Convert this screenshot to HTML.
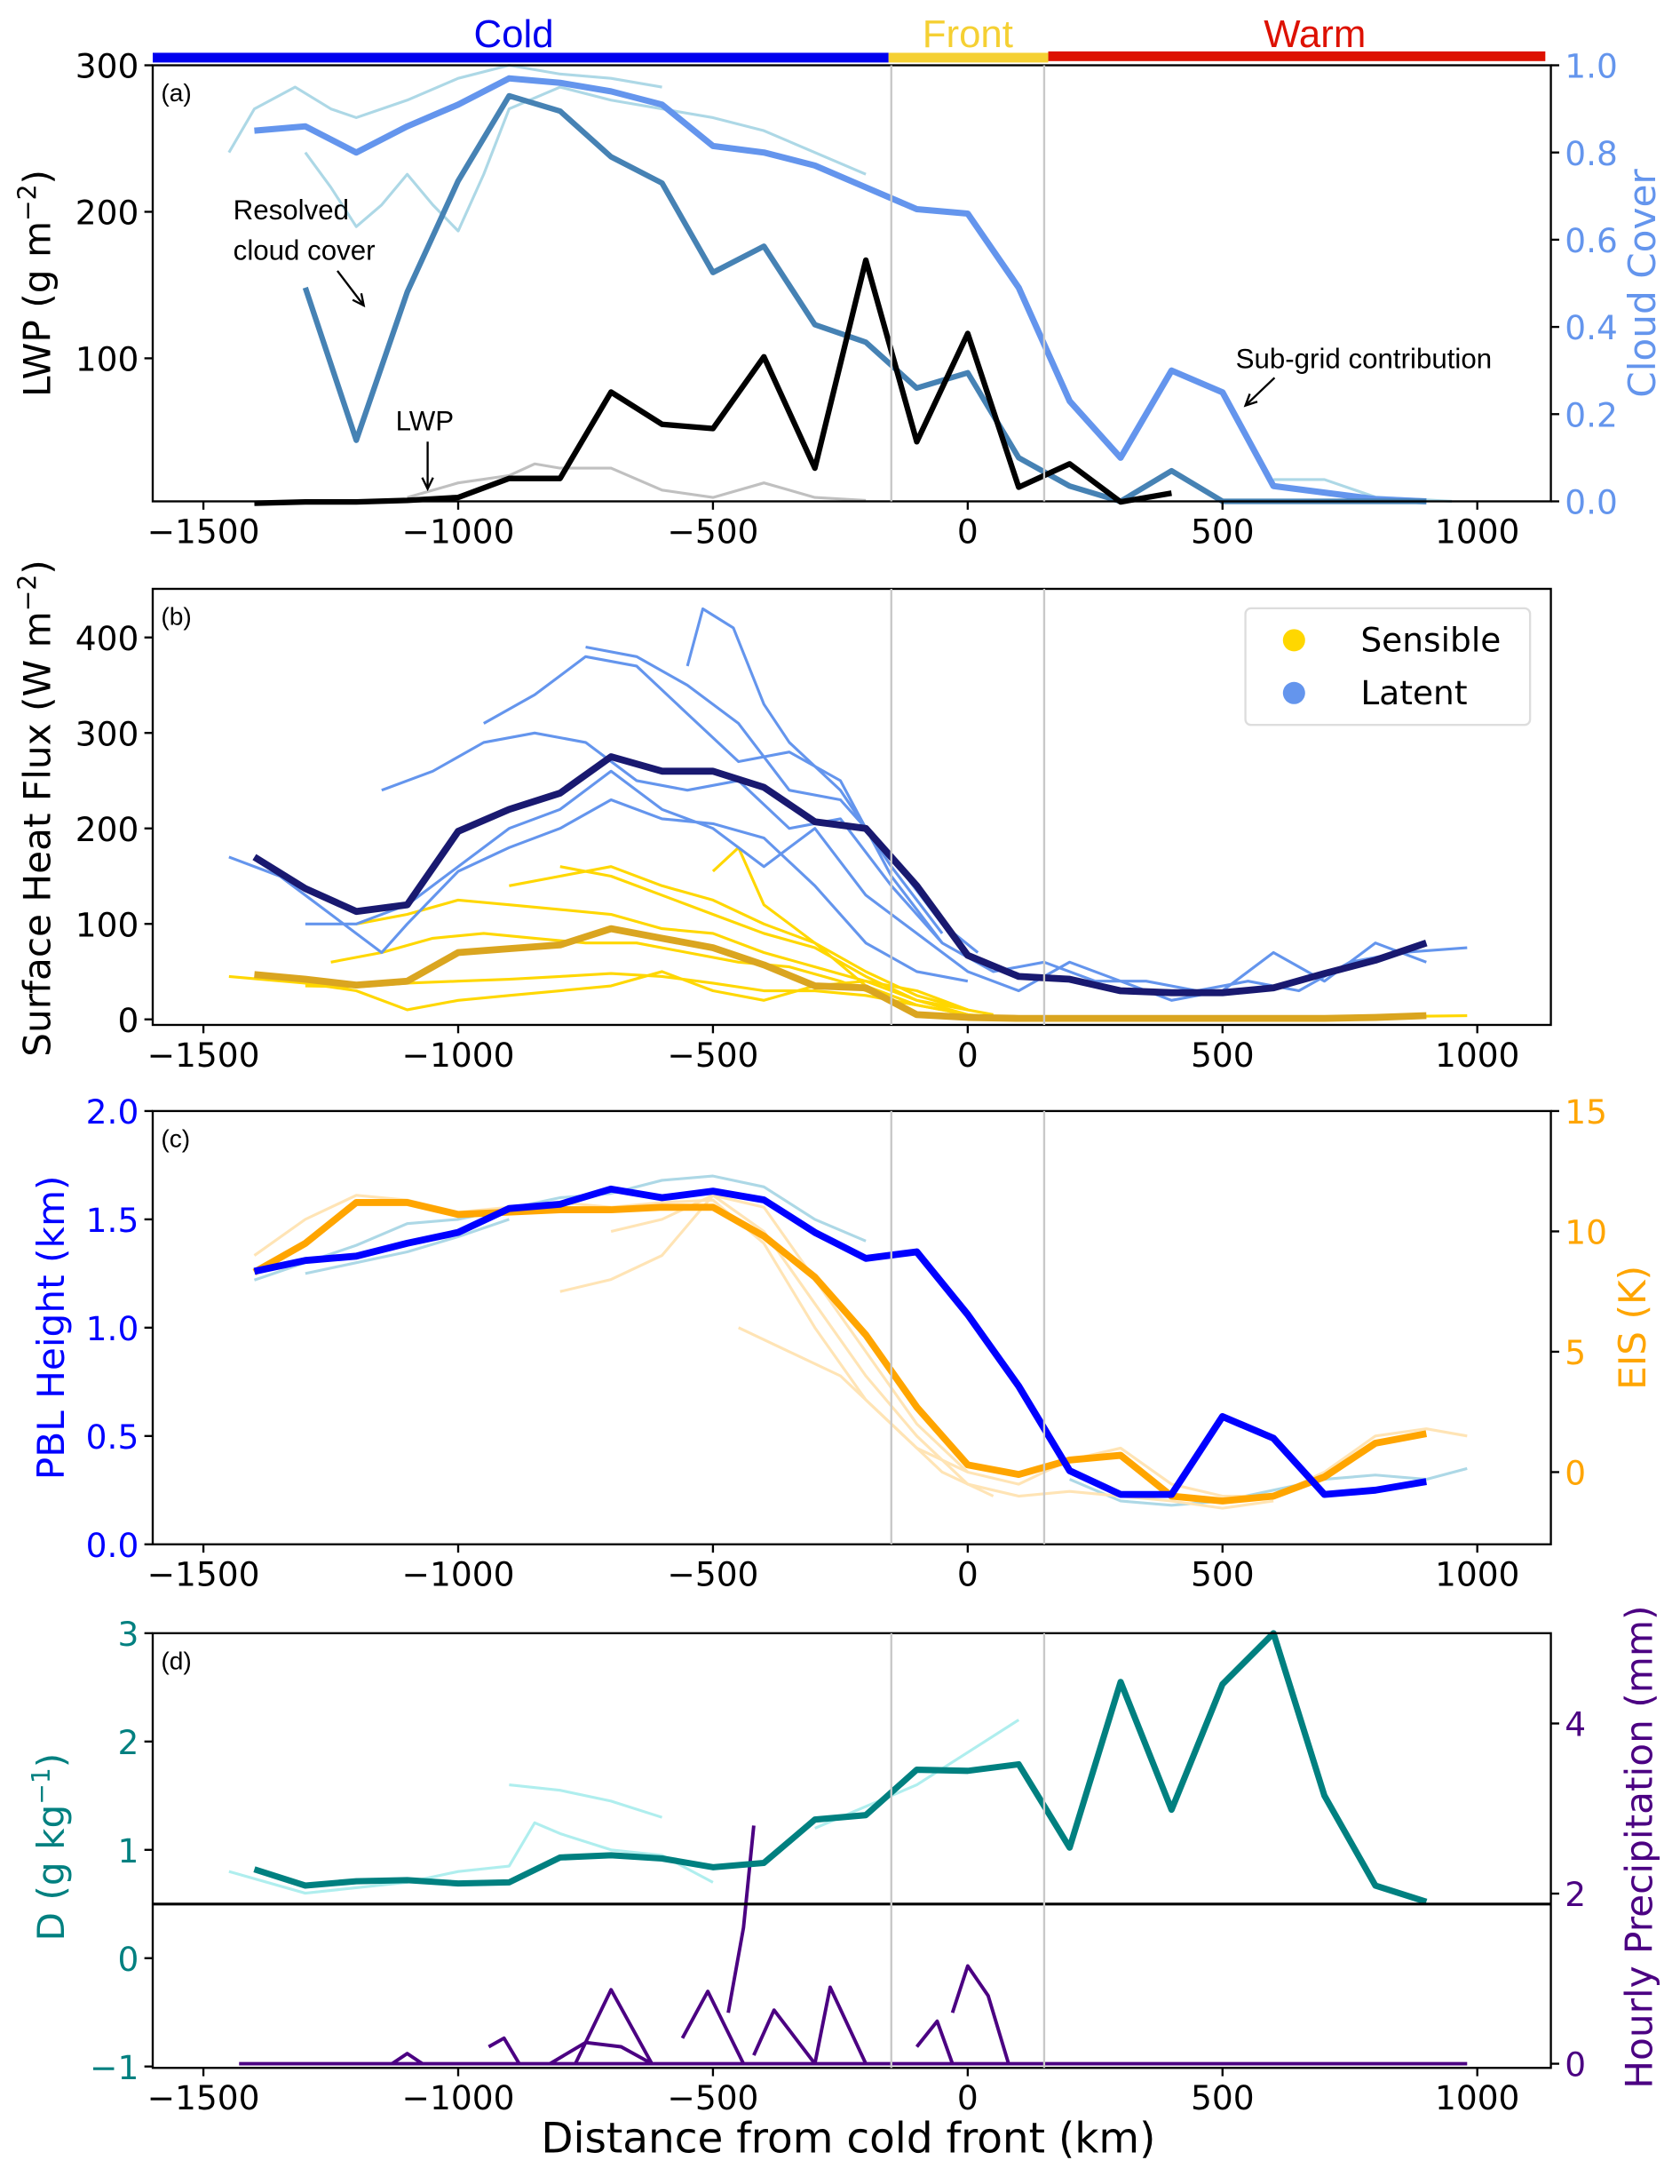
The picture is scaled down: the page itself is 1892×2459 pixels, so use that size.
<!DOCTYPE html>
<html><head><meta charset="utf-8"><style>
html,body{margin:0;padding:0;background:#fff;}
svg{display:block;}
text{font-family:"DejaVu Sans","Liberation Sans",sans-serif;}
.ann{font-family:"Liberation Sans",sans-serif;}
</style></head><body>
<svg id="fig" xmlns="http://www.w3.org/2000/svg" width="1892" height="2459" viewBox="0 0 1210 1572.6">
<g>
<rect x="110" y="38" width="530" height="7" fill="#0000ee"/>
<rect x="640" y="38" width="115" height="7" fill="#f5d033"/>
<rect x="755" y="37" width="358" height="7" fill="#dd1100"/>
<text x="370" y="34" font-size="28" fill="#0000ee" text-anchor="middle" class="ann">Cold</text>
<text x="697" y="34" font-size="28" fill="#f5d033" text-anchor="middle" class="ann">Front</text>
<text x="947" y="34" font-size="28" fill="#dd1100" text-anchor="middle" class="ann">Warm</text>
</g>
</svg>
<script>
// ---------- data ----------
const kmCats=[-1400,-1300,-1200,-1100,-1000,-900,-800,-700,-600,-500,-400,-300,-200,-100,0,100,200,300,400,500,600,700,800,900];
const cloudCover=[0.85,0.86,0.80,0.86,0.91,0.97,0.96,0.94,0.91,0.815,0.80,0.77,0.72,0.67,0.66,0.49,0.23,0.10,0.30,0.25,0.035,0.02,0.005,0];
const resolvedKm=[-1300,-1200,-1100,-1000,-900,-800,-700,-600,-500,-400,-300,-200,-100,0,100,200,300,400,500,600,700,800,900];
const resolvedCover=[0.49,0.14,0.48,0.735,0.93,0.895,0.79,0.73,0.525,0.585,0.405,0.365,0.26,0.295,0.10,0.035,0,0.07,0,0,0,0,0];
const lwpKm=[-1400,-1300,-1200,-1100,-1000,-900,-800,-700,-600,-500,-400,-300,-200,-100,0,100,200,300,400];
const lwpVals=[1,2,2,3,5,18,18,77,55,52,101,25,167,43,117,12,28,2,8];
const latentMean=[170,137,113,120,197,220,237,275,260,260,243,207,200,140,67,45,42,30,28,28,33,48,62,80];
const sensibleMean=[47,42,36,40,70,74,78,95,85,75,57,35,33,5,2,1,1,1,1,1,1,1,2,4];
const pblMean=[1.26,1.31,1.33,1.39,1.44,1.55,1.57,1.64,1.60,1.63,1.59,1.44,1.32,1.35,1.06,0.73,0.34,0.23,0.23,0.59,0.49,0.23,0.25,0.29];
const eisMean=[8.3,9.5,11.2,11.2,10.7,10.8,10.9,10.9,11.0,11.0,9.8,8.1,5.7,2.7,0.3,-0.1,0.5,0.7,-1.0,-1.2,-1.0,-0.2,1.2,1.6];
const dMean=[0.82,0.67,0.71,0.72,0.69,0.70,0.93,0.95,0.92,0.84,0.88,1.28,1.32,1.74,1.73,1.79,1.02,2.55,1.37,2.53,3.0,1.5,0.67,0.52];
const cloudTraces=[
 [[-1450,0.8],[-1400,0.9],[-1320,0.95],[-1250,0.9],[-1200,0.88],[-1100,0.92],[-1000,0.97],[-900,1.0],[-800,0.98],[-700,0.97],[-600,0.95]],
 [[-1300,0.80],[-1250,0.72],[-1200,0.63],[-1150,0.68],[-1100,0.75],[-1050,0.68],[-1000,0.62],[-950,0.75],[-900,0.9],[-800,0.95],[-700,0.92],[-600,0.9],[-500,0.88],[-400,0.85],[-300,0.8],[-200,0.75]],
 [[600,0.05],[700,0.05],[800,0.01],[950,0]]];
const lwpTraces=[[[-1100,5],[-1000,15],[-900,20],[-850,28],[-800,25],[-700,25],[-600,10],[-500,5],[-400,15],[-300,5],[-200,3]]];
const latentTraces=[
 [[-1450,170],[-1350,150],[-1250,110],[-1150,70],[-1100,100],[-1000,155],[-900,180],[-800,200],[-700,230],[-600,210],[-500,205],[-400,190],[-300,140],[-200,80],[-100,50],[0,40]],
 [[-1300,100],[-1200,100],[-1100,120],[-1000,160],[-900,200],[-800,220],[-700,260],[-600,220],[-500,200],[-400,160],[-300,200],[-200,130],[-100,90],[0,50],[100,30],[200,60],[300,40],[400,20],[500,30],[600,70],[700,40],[800,80],[900,60]],
 [[-1150,240],[-1050,260],[-950,290],[-850,300],[-750,290],[-650,250],[-550,240],[-450,250],[-350,200],[-250,210],[-150,140],[-50,80],[50,50],[150,60],[250,40],[350,40],[450,30],[550,40],[650,30],[750,60],[850,70],[980,75]],
 [[-950,310],[-850,340],[-750,380],[-650,370],[-550,320],[-450,270],[-350,280],[-250,250],[-150,150],[-50,80]],
 [[-750,390],[-650,380],[-550,350],[-450,310],[-350,240],[-250,230],[-150,170],[-50,100],[20,70]],
 [[-550,370],[-520,430],[-460,410],[-400,330],[-350,290],[-250,240],[-150,160],[-50,90]]];
const sensibleTraces=[
 [[-1300,35],[-1200,34],[-1100,38],[-1000,40],[-900,42],[-800,45],[-700,48],[-600,45],[-500,38],[-400,30],[-300,30],[-200,25],[-100,15],[0,5],[100,1],[300,2],[500,2],[700,2],[980,4]],
 [[-1450,45],[-1300,38],[-1200,30],[-1100,10],[-1000,20],[-900,25],[-800,30],[-700,35],[-600,50],[-500,30],[-400,20],[-300,35],[-200,40],[-100,30],[0,10]],
 [[-1250,60],[-1150,70],[-1050,85],[-950,90],[-850,85],[-750,80],[-650,80],[-550,70],[-450,60],[-350,55],[-250,40],[-150,20],[-50,10],[0,5]],
 [[-1200,100],[-1100,110],[-1000,125],[-900,120],[-800,115],[-700,110],[-600,95],[-500,90],[-400,70],[-300,55],[-200,40],[-100,20],[0,5]],
 [[-900,140],[-800,150],[-700,160],[-600,140],[-500,125],[-400,100],[-300,80],[-200,50],[-100,25],[0,10]],
 [[-800,160],[-700,150],[-600,130],[-500,110],[-400,90],[-300,75],[-200,45],[-100,20],[50,5]],
 [[-500,155],[-450,180],[-400,120],[-300,80],[-200,35],[-100,15]]];
const pblTraces=[
 [[-1400,1.22],[-1300,1.30],[-1200,1.38],[-1100,1.48],[-1000,1.5],[-900,1.55],[-800,1.6],[-700,1.62],[-600,1.68],[-500,1.7],[-400,1.65],[-300,1.5],[-200,1.4]],
 [[-1300,1.25],[-1200,1.3],[-1100,1.35],[-1000,1.42],[-900,1.5]],
 [[200,0.3],[300,0.2],[400,0.18],[500,0.2],[600,0.25],[700,0.3],[800,0.32],[900,0.3],[980,0.35]]];
const eisTraces=[
 [[-1400,9],[-1300,10.5],[-1200,11.5],[-1100,11.3],[-1000,10.8],[-900,11],[-800,11.2],[-700,11.0],[-600,11.2],[-500,11.3],[-400,9.5],[-300,6],[-200,3],[-100,1],[0,0],[100,-0.5],[200,0.5],[300,1],[400,-0.5],[500,-1],[600,-1],[700,0],[800,1.5],[900,1.8],[980,1.5]],
 [[-700,10],[-600,10.5],[-500,11.5],[-400,10],[-300,7],[-200,4],[-100,1.5],[0,-0.5],[100,-1],[200,-0.8],[300,-1],[400,-1.2],[500,-1.5],[600,-1.2]],
 [[-450,6],[-350,5],[-250,4],[-150,2],[-50,0],[50,-1]],
 [[-800,7.5],[-700,8],[-600,9],[-500,11.5],[-400,11],[-300,8],[-200,5],[-100,2],[0,0]]];
const dTraces=[
 [[-1450,0.8],[-1300,0.6],[-1200,0.65],[-1100,0.7],[-1000,0.8],[-900,0.85],[-850,1.25],[-800,1.15],[-700,1.0],[-600,0.95],[-500,0.7]],
 [[-900,1.6],[-800,1.55],[-700,1.45],[-600,1.3]],
 [[-300,1.2],[-200,1.4],[-100,1.6],[0,1.9],[100,2.2]]];
const precipTraces=[
 [[-1430,0],[980,0]],
 [[-1130,0],[-1100,0.12],[-1070,0]],
 [[-940,0.2],[-910,0.3],[-880,0]],
 [[-770,0],[-700,0.87],[-620,0]],
 [[-560,0.3],[-510,0.85],[-440,0]],
 [[-420,0.1],[-380,0.63],[-300,0]],
 [[-300,0],[-270,0.9],[-200,0]],
 [[-470,0.6],[-440,1.6],[-420,2.8]],
 [[-820,0],[-750,0.25],[-680,0.2],[-620,0]],
 [[-30,0.6],[0,1.15],[40,0.8],[80,0]],
 [[-100,0.2],[-60,0.5],[-30,0]]];
const xTicks=[-1500,-1000,-500,0,500,1000];

// ---------- helpers ----------
const NS='http://www.w3.org/2000/svg';
const svg=document.getElementById('fig');
const L=110,R=1117;
function X(km){return 697+km*0.367;}
function lin(v0,p0,v1,p1){return v=>p0+(v-v0)*(p1-p0)/(v1-v0);}
function mk(tag,attrs,parent){const e=document.createElementNS(NS,tag);for(const k in attrs)e.setAttribute(k,attrs[k]);(parent||svg).appendChild(e);return e;}
function line(pts,Y,color,w,name,dash){
 const d=pts.map((p,i)=>(i?'L':'M')+X(p[0]).toFixed(1)+' '+Y(p[1]).toFixed(1)).join(' ');
 const e=mk('path',{d:d,fill:'none',stroke:color,'stroke-width':w,'stroke-linejoin':'round','stroke-linecap':'butt'});
 if(dash)e.setAttribute('stroke-dasharray',dash);
 
 
 return e;}
function zip(xs,ys){return xs.map((x,i)=>[x,ys[i]]);}
function txt(x,y,s,opt){const e=mk('text',Object.assign({x:x,y:y,'font-size':24,fill:'#000'},opt||{}));e.textContent=s;return e;}
function frame(top,bot,name,label){
 const g=mk('rect',{x:L,y:top,width:R-L,height:bot-top,fill:'none',stroke:'#000','stroke-width':1.5});
 
 
 for(const k of [-150,150]){const v=mk('line',{x1:X(k),x2:X(k),y1:top,y2:bot,stroke:'#c8c8c8','stroke-width':1.5});
  
  }
 xTicks.forEach(t=>{mk('line',{x1:X(t),x2:X(t),y1:bot,y2:bot+6,stroke:'#000','stroke-width':1.5});
  const e=txt(X(t),bot+30,t<0?'\u2212'+(-t):String(t),{'text-anchor':'middle'});
  
  });
 const p=txt(L+6,top+26,label,{'font-size':18,class:'ann'});
 
 }
function yticks(vals,Y,side,color,fmt,name){
 vals.forEach(v=>{const y=Y(v);
  if(side==='l'){mk('line',{x1:L-6,x2:L,y1:y,y2:y,stroke:'#000','stroke-width':1.5});}
  else{mk('line',{x1:R,x2:R+6,y1:y,y2:y,stroke:'#000','stroke-width':1.5});}
  const e=txt(side==='l'?L-10:R+10,y+9,fmt(v),{'text-anchor':side==='l'?'end':'start',fill:color});
  
  });}
function vlabel(x,y,s,color,name){const e=txt(x,y,'',{'font-size':27,fill:color,'text-anchor':'middle',transform:'rotate(-90 '+x+' '+y+')'});
 e.innerHTML=s;
 
 }
const neg=v=>v<0?'\u2212'+(-v):String(v);

// ---------- panel a ----------
const Ya=lin(0,363.5,300,47), Yc=lin(0,361,1,47);
lwpTraces.forEach(t=>line(t,Ya,'#c0c0c0',2,'lwp-trace'));
cloudTraces.forEach(t=>line(t,Yc,'#add8e6',2,'cloud-cover-trace'));
line(zip(kmCats,cloudCover),Yc,'#6495ed',4.5,'cloud-cover-mean-line');
line(zip(resolvedKm,resolvedCover),Yc,'#4682b4',4,'resolved-cloud-cover-line');
line(zip(lwpKm,lwpVals),Ya,'#000',4,'lwp-mean-line');
frame(47,361,'panel-a','(a)');
yticks([100,200,300],Ya,'l','#000',String,'lwp-tick-label');
yticks([0,0.2,0.4,0.6,0.8,1.0],Yc,'r','#6495ed',v=>v.toFixed(1),'cloud-cover-tick-label');
vlabel(36,204,'LWP (g m<tspan baseline-shift="super" font-size="18">\u22122</tspan>)','#000','lwp-axis-title');
vlabel(1192,204,'Cloud Cover','#6495ed','cloud-cover-axis-title');
[['Resolved',168,158],['cloud cover',168,187],['LWP',285,310],['Sub-grid contribution',890,265]].forEach(a=>{const e=txt(a[1],a[2],a[0],{'font-size':20,class:'ann'});
 
 });
[[243,195,262,220],[308,318,308,352],[918,272,897,292]].forEach(a=>{mk('line',{x1:a[0],y1:a[1],x2:a[2],y2:a[3],stroke:'#000','stroke-width':1.5});
 const ang=Math.atan2(a[3]-a[1],a[2]-a[0]);const h=9;
 mk('path',{d:`M${a[2]-h*Math.cos(ang-0.45)} ${a[3]-h*Math.sin(ang-0.45)} L${a[2]} ${a[3]} L${a[2]-h*Math.cos(ang+0.45)} ${a[3]-h*Math.sin(ang+0.45)}`,fill:'none',stroke:'#000','stroke-width':1.5});});

// ---------- panel b ----------
const Yb=lin(0,734,400,459);
sensibleTraces.forEach(t=>line(t,Yb,'#ffd700',2,'sensible-trace'));
latentTraces.forEach(t=>line(t,Yb,'#6495ed',2,'latent-trace'));
line(zip(kmCats,sensibleMean),Yb,'#daa520',5,'sensible-mean-line');
line(zip(kmCats,latentMean),Yb,'#191970',5,'latent-mean-line');
frame(424,738,'panel-b','(b)');
yticks([0,100,200,300,400],Yb,'l','#000',String,'heat-flux-tick-label');
vlabel(36,582,'Surface Heat Flux (W m<tspan baseline-shift="super" font-size="18">\u22122</tspan>)','#000','heat-flux-axis-title');
const lg=mk('rect',{x:897,y:438,width:205,height:84,rx:4,fill:'#fff',stroke:'#ddd','stroke-width':1.5});


mk('circle',{cx:932,cy:461,r:8,fill:'#ffd700'});
mk('circle',{cx:932,cy:499,r:8,fill:'#6495ed'});
const l1=txt(980,469,'Sensible',{'font-size':24});
const l2=txt(980,507,'Latent',{'font-size':24});

// ---------- panel c ----------
const Yp=lin(0,1112,2,800), Ye=lin(0,1060,15,800);
pblTraces.forEach(t=>line(t,Yp,'#add8e6',2,'pbl-trace'));
eisTraces.forEach(t=>line(t,Ye,'#ffe4b5',2,'eis-trace'));
line(zip(kmCats,eisMean),Ye,'#ffa500',5,'eis-mean-line');
line(zip(kmCats,pblMean),Yp,'#0000ff',5,'pbl-mean-line');
frame(800,1112,'panel-c','(c)');
yticks([0,0.5,1,1.5,2],Yp,'l','#0000ff',v=>v.toFixed(1),'pbl-tick-label');
yticks([0,5,10,15],Ye,'r','#ffa500',String,'eis-tick-label');
vlabel(46,956,'PBL Height (km)','#0000ff','pbl-axis-title');
vlabel(1185,956,'EIS (K)','#ffa500','eis-axis-title');

// ---------- panel d ----------
const Yd=lin(0,1410,3,1176), Yr=lin(0,1486,4,1241);
dTraces.forEach(t=>line(t,Yd,'#afeeee',2,'d-trace'));
precipTraces.forEach(t=>line(t,Yr,'#4b0082',2.5,'precip-trace'));
line(zip(kmCats,dMean),Yd,'#008080',4.5,'d-mean-line');
const hl=mk('line',{x1:L,x2:R,y1:Yd(0.5),y2:Yd(0.5),stroke:'#000','stroke-width':2});


frame(1176,1489,'panel-d','(d)');
yticks([-1,0,1,2,3],Yd,'l','#008080',neg,'d-tick-label');
yticks([0,2,4],Yr,'r','#4b0082',String,'precip-tick-label');
vlabel(46,1330,'D (g kg<tspan baseline-shift="super" font-size="18">\u22121</tspan>)','#008080','d-axis-title');
vlabel(1190,1330,'Hourly Precipitation (mm)','#4b0082','precip-axis-title');
const xl=txt(611,1550,'Distance from cold front (km)',{'font-size':30,'text-anchor':'middle'});


</script>
</body></html>
